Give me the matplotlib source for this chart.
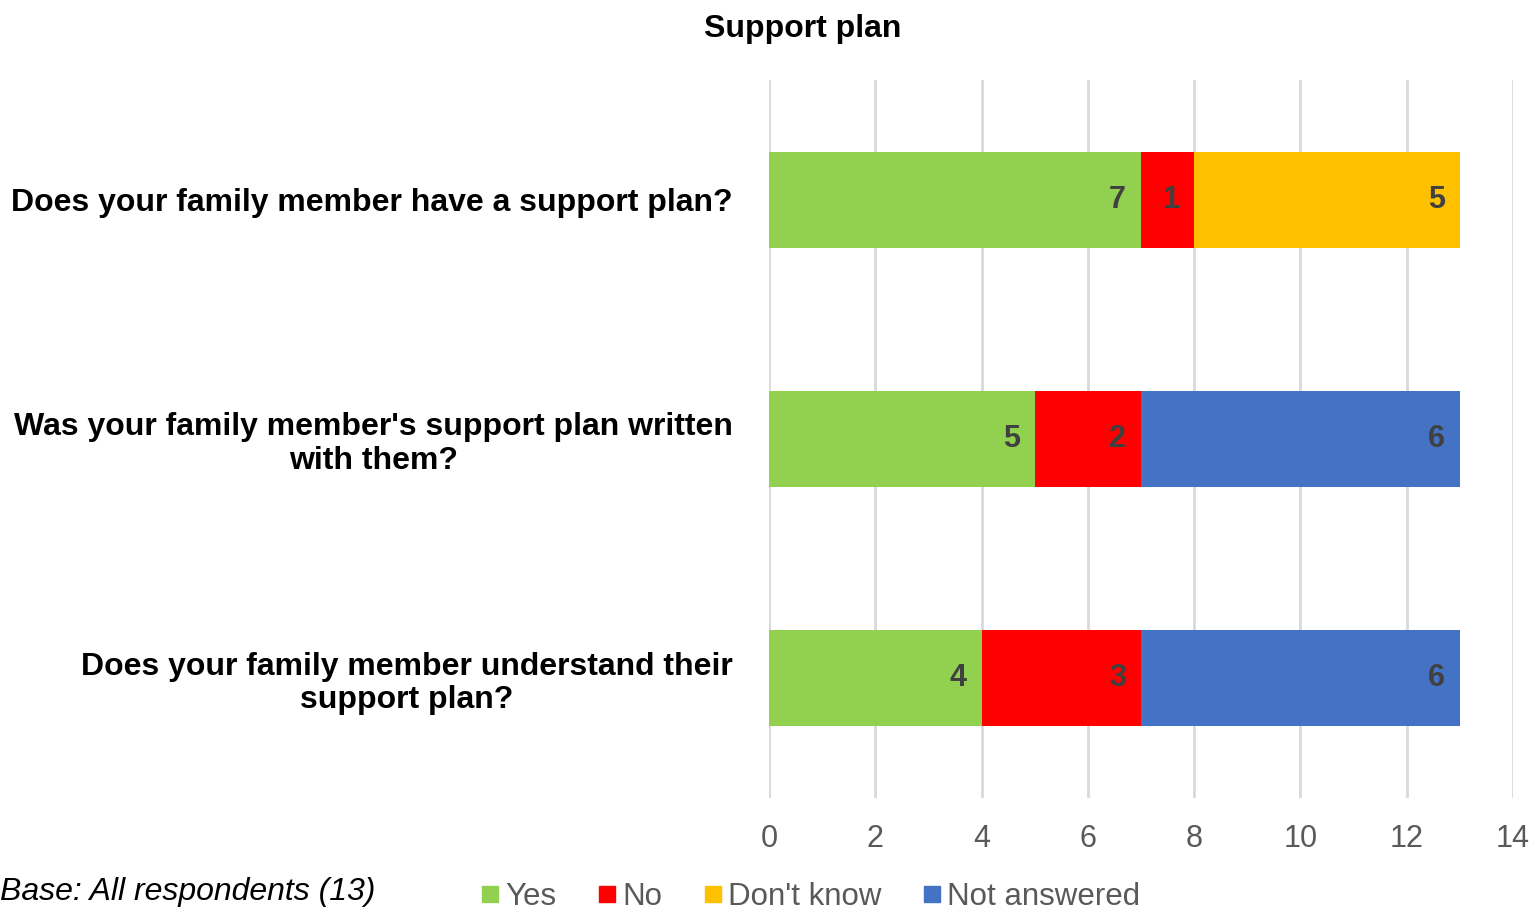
import matplotlib.pyplot as plt
import numpy as np
from matplotlib.lines import Line2D

plt.rcParams['font.family'] = ['Liberation Sans', 'DejaVu Sans']

questions = [
    "Does your family member have a support plan?",
    "Was your family member's support plan written\nwith them?",
    "Does your family member understand their\nsupport plan?",
]
series = ["Yes", "No", "Don't know", "Not answered"]
yes = [7, 5, 4]
no = [1, 2, 3]
dont_know = [5, 0, 0]
not_answered = [0, 6, 6]
colors = ["#92d050", "#ff0000", "#ffc000", "#4472c4"]
xticks = [0, 2, 4, 6, 8, 10, 12, 14]

fig = plt.figure(figsize=(15.33, 9.11), dpi=100)
ax = fig.add_axes([769 / 1533, 1 - 798 / 911, (1513 - 769) / 1533, (798 - 80) / 911])

y = np.arange(len(questions))
left = np.zeros(len(questions))
for name, vals, col in zip(series, [yes, no, dont_know, not_answered], colors):
    vals = np.array(vals, dtype=float)
    bars = ax.barh(y, vals, left=left, height=0.4, color=col, label=name, zorder=2)
    for b, v in zip(bars, vals):
        if v > 0:
            ax.text(b.get_x() + b.get_width() - 0.28, b.get_y() + b.get_height() / 2, f"{int(v)}",
                    ha='right', va='center', fontsize=22, fontweight='bold', color='#404040', zorder=3)
    left += vals

ax.set_xlim(0, 14)
ax.set_ylim(2.5, -0.5)
ax.set_xticks(xticks)
ax.set_xticklabels([str(t) for t in xticks], fontsize=22, color='#595959')
ax.set_yticks(y)
ax.set_yticklabels(questions, fontsize=23, fontweight='bold', color='black',
                   multialignment='center', linespacing=1.15)
ax.tick_params(axis='x', length=0, pad=19)
ax.tick_params(axis='y', length=0, pad=26)
ax.grid(axis='x', color='#d9d9d9', linewidth=2, zorder=0)
for s in ax.spines.values():
    s.set_visible(False)

fig.text(803 / 1533, 1 - 29 / 911, "Support plan", ha='center', va='center',
         fontsize=23, fontweight='bold', color='black')

handles = [Line2D([], [], marker='s', linestyle='none', markersize=12, color=c) for c in colors]
fig.legend(handles, series, loc='center', bbox_to_anchor=(809 / 1533, 1 - 897 / 911), ncol=4,
           frameon=False, fontsize=22.5, labelcolor='#595959', handletextpad=0.1,
           columnspacing=1.2, handlelength=0.8)

# base note sits at the very bottom left
fig.text(0, 4 / 911, "Base: All respondents (13)", ha='left', va='bottom',
         fontsize=23, style='italic', color='black')

fig.savefig("out.png", dpi=100)
